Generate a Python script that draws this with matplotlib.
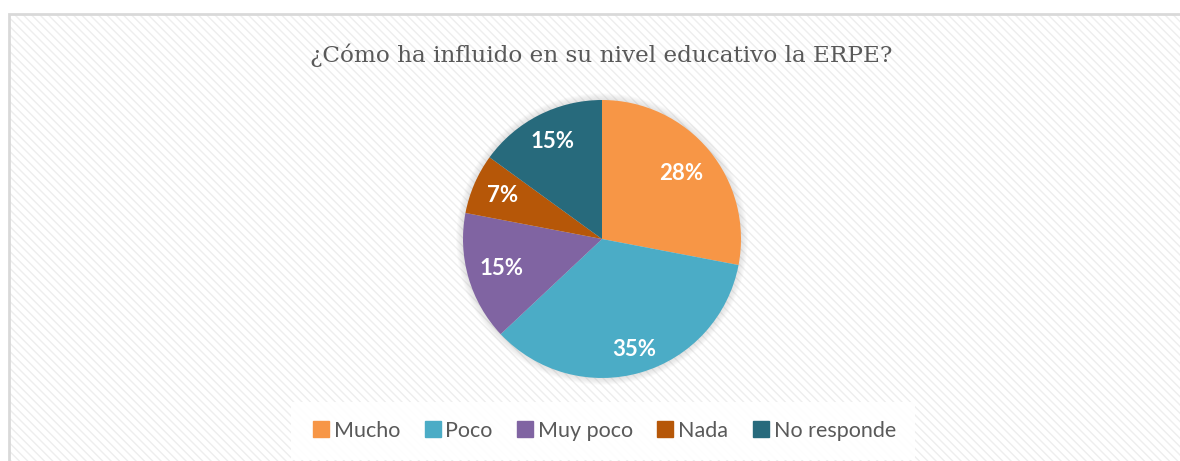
import numpy as np
import matplotlib
matplotlib.use("Agg")
import matplotlib.pyplot as plt
from matplotlib.patches import Rectangle, Circle
from matplotlib.lines import Line2D

# answers and their shares (%)
categories = ["Mucho", "Poco", "Muy poco", "Nada", "No responde"]
shares = [28, 35, 15, 7, 15]
colors = ["#F79646", "#4BACC6", "#8064A2", "#B65708", "#276A7C"]
title = "¿Cómo ha influido en su nivel educativo la ERPE?"

W, H = 1180, 461
DPI = 100
plt.rcParams["hatch.linewidth"] = 1.0

fig = plt.figure(figsize=(W / DPI, H / DPI), dpi=DPI)
fig.patch.set_facecolor("white")

# chart area: white with light diagonal stripes, gray border on top/left
x0, y0 = 9 / W, 0.0
bg = Rectangle((x0, y0), 1 - x0 + 0.01, 1 - 14 / H, transform=fig.transFigure,
               facecolor="white", edgecolor="#eeeeee", hatch="\\\\\\\\",
               linewidth=0, zorder=-3)
fig.patches.append(bg)
border = Rectangle((x0, y0 - 0.05), 1.0, 1 - 14 / H + 0.05, transform=fig.transFigure,
                   facecolor="none", edgecolor="#d9d9d9", linewidth=2, zorder=-2)
fig.patches.append(border)

# pie
cx, cy, r = 602, 239, 139
ax = fig.add_axes([(cx - r * 1.05) / W, (H - cy - r * 1.05) / H,
                   2.1 * r / W, 2.1 * r / H])
ax.set_zorder(2)
# soft shadow round the pie
for k in range(6):
    ax.add_patch(Circle((0, 0), 1.0 + 0.008 * (k + 1), facecolor="#808080",
                        edgecolor="none", alpha=0.035, zorder=0))
wedges, _ = ax.pie(shares, colors=colors, startangle=90, counterclock=False,
                   radius=1.0, wedgeprops=dict(linewidth=0, zorder=1))
ax.set_xlim(-1.05, 1.05)
ax.set_ylim(-1.05, 1.05)
ax.set_aspect("equal")
ax.axis("off")

# data labels, placed along each wedge's middle angle
label_dist = [0.74, 0.83, 0.75, 0.78, 0.79]
for w, v, d in zip(wedges, shares, label_dist):
    ang = np.deg2rad((w.theta1 + w.theta2) / 2)
    ax.text(d * np.cos(ang), d * np.sin(ang), f"{v}%", ha="center", va="center",
            color="white", fontsize=16, fontweight="bold", family="Lato", zorder=3)

fig.text(601 / W, 1 - 55 / H, title, ha="center", va="center",
         fontsize=16.7, color="#595959", family="DejaVu Serif")

handles = [Line2D([], [], marker="s", linestyle="none", markersize=11,
                  markerfacecolor=c, markeredgecolor=c) for c in colors]
leg = fig.legend(handles, categories, loc="center", ncol=5,
                 bbox_to_anchor=(603 / W, 1 - 431 / H), frameon=True,
                 prop=dict(family="Lato", size=15.5), handletextpad=0.1,
                 columnspacing=1.0, borderpad=0.4, handlelength=1.0)
leg.get_frame().set_facecolor("white")
leg.get_frame().set_edgecolor("none")
leg.get_frame().set_alpha(0.9)
leg.get_frame().set_boxstyle("square", pad=0.5)
for t in leg.get_texts():
    t.set_color("#595959")

fig.savefig("out.png", dpi=DPI)
